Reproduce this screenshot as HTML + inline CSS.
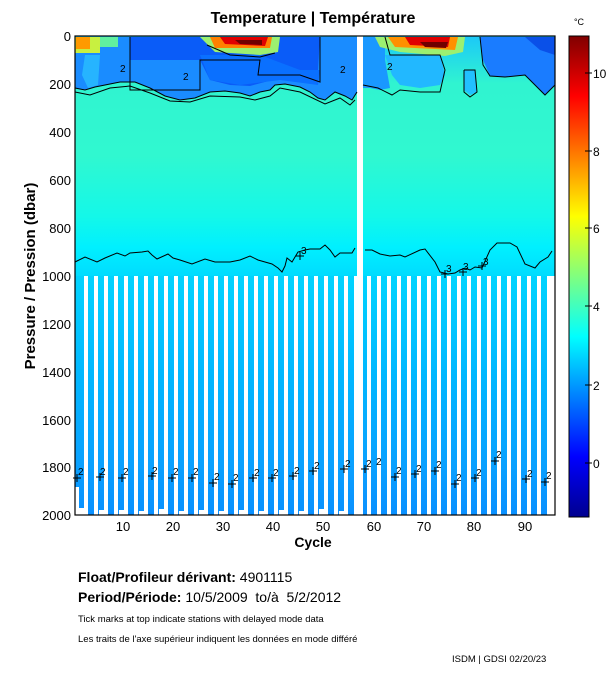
<!DOCTYPE html>
<html><head><meta charset="utf-8"><style>
body{margin:0;background:#fff;width:611px;height:675px;overflow:hidden;font-family:"Liberation Sans",sans-serif}
</style></head><body>
<svg width="611" height="675" xmlns="http://www.w3.org/2000/svg" font-family="Liberation Sans, sans-serif">
<defs>
<linearGradient id="jet" x1="0" y1="1" x2="0" y2="0">
<stop offset="0" stop-color="#00008f"/><stop offset="0.125" stop-color="#0000ff"/>
<stop offset="0.375" stop-color="#00ffff"/><stop offset="0.625" stop-color="#ffff00"/>
<stop offset="0.875" stop-color="#ff0000"/><stop offset="1" stop-color="#800000"/>
</linearGradient>
<linearGradient id="mid" x1="0" y1="0" x2="0" y2="1">
<stop offset="0" stop-color="#1cc8f8"/><stop offset="0.2" stop-color="#30f4d0"/>
<stop offset="0.5" stop-color="#30f8d0"/><stop offset="0.75" stop-color="#14f8e8"/>
<stop offset="0.88" stop-color="#00f0ff"/><stop offset="1" stop-color="#00dcff"/>
</linearGradient>
<linearGradient id="deep" x1="0" y1="0" x2="0" y2="1">
<stop offset="0" stop-color="#00d4ff"/><stop offset="0.4" stop-color="#00b8ff"/>
<stop offset="0.8" stop-color="#0aa0ff"/><stop offset="1" stop-color="#0a90ff"/>
</linearGradient>
</defs>
<text x="313" y="23" text-anchor="middle" font-size="16" font-weight="bold">Temperature | Température</text>
<rect x="75" y="36" width="480" height="240" fill="url(#mid)"/>
<rect x="75" y="276" width="480" height="239" fill="url(#deep)"/>
<g fill="#fff">
<rect x="84" y="276" width="4" height="239"/><rect x="94" y="276" width="4" height="239"/><rect x="104" y="276" width="4" height="239"/><rect x="114" y="276" width="4" height="239"/><rect x="124" y="276" width="4" height="239"/><rect x="134" y="276" width="4" height="239"/><rect x="144" y="276" width="4" height="239"/><rect x="154" y="276" width="4" height="239"/><rect x="164" y="276" width="4" height="239"/><rect x="174" y="276" width="4" height="239"/><rect x="184" y="276" width="4" height="239"/><rect x="194" y="276" width="4" height="239"/><rect x="204" y="276" width="4" height="239"/><rect x="214" y="276" width="4" height="239"/><rect x="224" y="276" width="4" height="239"/><rect x="234" y="276" width="4" height="239"/><rect x="244" y="276" width="4" height="239"/><rect x="254" y="276" width="4" height="239"/><rect x="264" y="276" width="4" height="239"/><rect x="274" y="276" width="4" height="239"/><rect x="284" y="276" width="4" height="239"/><rect x="294" y="276" width="4" height="239"/><rect x="304" y="276" width="4" height="239"/><rect x="314" y="276" width="4" height="239"/><rect x="324" y="276" width="4" height="239"/><rect x="334" y="276" width="4" height="239"/><rect x="344" y="276" width="4" height="239"/><rect x="354" y="276" width="4" height="239"/>
<rect x="357" y="36" width="6" height="479"/>
<rect x="367" y="276" width="4" height="239"/><rect x="377" y="276" width="4" height="239"/><rect x="387" y="276" width="4" height="239"/><rect x="397" y="276" width="4" height="239"/><rect x="407" y="276" width="4" height="239"/><rect x="417" y="276" width="4" height="239"/><rect x="427" y="276" width="4" height="239"/><rect x="437" y="276" width="4" height="239"/><rect x="447" y="276" width="4" height="239"/><rect x="457" y="276" width="4" height="239"/><rect x="467" y="276" width="4" height="239"/><rect x="477" y="276" width="4" height="239"/><rect x="487" y="276" width="4" height="239"/><rect x="497" y="276" width="4" height="239"/><rect x="507" y="276" width="4" height="239"/><rect x="517" y="276" width="4" height="239"/><rect x="527" y="276" width="4" height="239"/><rect x="537" y="276" width="4" height="239"/><rect x="547" y="276" width="8" height="239"/>
<rect x="75" y="487" width="4" height="28"/>
<rect x="79" y="508" width="5" height="7"/><rect x="99" y="510" width="5" height="5"/><rect x="119" y="510" width="5" height="5"/><rect x="139" y="511" width="5" height="4"/><rect x="159" y="509" width="5" height="6"/><rect x="179" y="511" width="5" height="4"/><rect x="199" y="510" width="5" height="5"/><rect x="219" y="511" width="5" height="4"/><rect x="239" y="510" width="5" height="5"/><rect x="259" y="511" width="5" height="4"/><rect x="279" y="510" width="5" height="5"/><rect x="299" y="511" width="5" height="4"/><rect x="319" y="509" width="5" height="6"/><rect x="339" y="511" width="5" height="4"/>
</g>
<polygon fill="#1a8cff" points="75,37 357,37 357,92 352,100 345,96 335,92 325,100 318,98 310,92 300,87 285,84 275,85 270,90 260,92 250,96 240,93 225,91 210,92 195,98 180,100 165,96 150,88 135,82 120,82 110,84 95,87 85,90 75,88"/>
<polygon fill="#0a5cf8" points="130,37 320,37 318,70 300,80 280,78 250,86 230,85 210,80 200,60 130,60"/>
<polygon fill="#0a70ff" points="200,55 260,55 300,70 320,70 318,85 280,80 240,85 210,80"/>
<polygon fill="#26b4ff" points="85,55 100,55 98,85 88,88 82,75"/>
<polygon fill="#1a98ff" points="363,37 385,37 385,60 390,88 380,90 370,88 363,88"/>
<polygon fill="#22b8ff" points="385,55 440,55 445,75 440,85 420,88 400,85 392,75"/>
<polygon fill="#1a7cff" points="480,37 555,37 555,85 545,95 535,85 525,75 505,77 490,76 483,60"/>
<polygon fill="#0a50e8" points="525,37 555,37 555,55 540,50"/>
<polygon fill="#22c0ff" points="464,70 475,70 477,92 470,95 464,90"/>
<rect x="75" y="37" width="25" height="16" fill="#c8f040"/>
<rect x="76" y="37" width="14" height="12" fill="#ff9a00"/>
<rect x="100" y="37" width="18" height="10" fill="#60f0a0"/>
<polygon fill="#9cf070" points="200,37 280,37 278,52 260,55 215,52"/>
<polygon fill="#ff8000" points="210,37 272,37 270,48 215,48"/>
<polygon fill="#e00000" points="220,37 268,37 265,46 225,44"/>
<polygon fill="#700000" points="235,40 262,40 262,45 240,44"/>
<polygon fill="#9cf070" points="375,37 465,37 463,52 445,56 400,52 380,47"/>
<polygon fill="#ff9000" points="388,37 458,37 455,50 395,47"/>
<polygon fill="#e00000" points="405,37 450,37 448,47 410,45"/>
<polygon fill="#700000" points="420,42 448,42 446,48 425,47"/>
<g fill="none" stroke="#000" stroke-width="1">
<polyline points="75,88 85,90 95,87 110,84 120,82 135,82 150,88 165,96 180,100 195,98 210,92 225,91 240,93 250,96 260,92 270,90 275,85 285,84 300,87 310,92 318,98 325,100 335,92 345,96 352,100 357,92"/>
<polyline points="75,92 90,95 110,88 130,86 150,93 170,101 190,102 210,96 240,97 255,100 270,96 280,88 300,92 325,104 340,98 350,105 355,100"/>
<polyline points="130,37 130,90 200,90 200,60 260,60 258,75 300,75 320,82 320,37"/>
<polyline points="207,45 230,55 260,57 275,53"/>
<polyline points="363,85 378,88 392,95 400,90 420,92 440,92 445,70 440,55 390,55 385,37"/>
<polyline points="480,37 483,65 490,76 505,77 525,75 535,85 545,95 555,85"/>
<polyline points="464,70 475,70 477,92 470,97 464,92 464,70"/>
<polyline points="75,262 85,257 97,262 105,258 117,253 125,256 130,253 142,252 148,251 152,255 157,259 168,254 173,258 180,260 192,264 205,259 215,262 230,262 240,260 250,256 258,260 265,262 272,264 278,268 282,272 285,266 287,258 292,262 298,252 305,250 310,249 320,249 325,245 330,250 335,257 340,253 352,253 355,248"/>
<polyline points="365,250 372,250 380,254 390,256 400,255 405,257 420,250 425,249 435,262 440,272 448,274 455,273 460,270 465,268 470,270 475,267 482,268 490,250 497,243 510,243 517,247 525,264 535,268 540,262 548,257 552,251"/>
<path d="M73,478h8M77,474v8 M96,477h8M100,473v8 M118,478h8M122,474v8 M148,476h8M152,472v8 M168,478h8M172,474v8 M188,478h8M192,474v8 M209,483h8M213,479v8 M228,484h8M232,480v8 M249,478h8M253,474v8 M268,478h8M272,474v8 M289,476h8M293,472v8 M309,471h8M313,467v8 M340,469h8M344,465v8 M361,469h8M365,465v8 M391,477h8M395,473v8 M411,474h8M415,470v8 M431,471h8M435,467v8 M451,484h8M455,480v8 M471,478h8M475,474v8 M491,461h8M495,457v8 M522,479h8M526,475v8 M541,482h8M545,478v8 M296,256h8M300,252v8 M441,274h8M445,270v8 M459,272h8M463,268v8 M478,266h8M482,262v8"/>
</g>
<g font-size="10" fill="#000">
<text x="301" y="254">3</text><text x="446" y="272">3</text><text x="463" y="270">3</text><text x="483" y="265">3</text>
<text x="78" y="475">2</text><text x="100" y="475">2</text><text x="123" y="475">2</text><text x="152" y="474">2</text><text x="173" y="475">2</text><text x="193" y="475">2</text><text x="214" y="480">2</text><text x="233" y="481">2</text><text x="254" y="476">2</text><text x="273" y="476">2</text><text x="294" y="474">2</text><text x="314" y="469">2</text><text x="345" y="467">2</text><text x="366" y="467">2</text><text x="376" y="465">2</text><text x="396" y="474">2</text><text x="416" y="472">2</text><text x="436" y="468">2</text><text x="456" y="481">2</text><text x="476" y="476">2</text><text x="496" y="458">2</text><text x="527" y="477">2</text><text x="546" y="479">2</text>
<text x="120" y="72">2</text><text x="183" y="80">2</text><text x="340" y="73">2</text><text x="387" y="70">2</text>
</g>
<rect x="75" y="36" width="480" height="479" fill="none" stroke="#000" stroke-width="1.2"/>
<g font-size="13" text-anchor="end">
<text x="71" y="41">0</text><text x="71" y="89">200</text><text x="71" y="137">400</text><text x="71" y="185">600</text><text x="71" y="233">800</text><text x="71" y="281">1000</text><text x="71" y="329">1200</text><text x="71" y="377">1400</text><text x="71" y="425">1600</text><text x="71" y="472">1800</text><text x="71" y="520">2000</text>
</g>
<g font-size="13" text-anchor="middle">
<text x="123" y="531">10</text><text x="173" y="531">20</text><text x="223" y="531">30</text><text x="273" y="531">40</text><text x="323" y="531">50</text><text x="374" y="531">60</text><text x="424" y="531">70</text><text x="474" y="531">80</text><text x="525" y="531">90</text>
</g>
<text x="313" y="547" text-anchor="middle" font-size="14" font-weight="bold">Cycle</text>
<text transform="translate(35,276) rotate(-90)" text-anchor="middle" font-size="15" font-weight="bold">Pressure / Pression (dbar)</text>
<rect x="569" y="36" width="20" height="481" fill="url(#jet)" stroke="#000"/>
<text x="579" y="25" text-anchor="middle" font-size="9">°C</text>
<g stroke="#000"><line x1="585" y1="73" x2="592" y2="73"/><line x1="585" y1="151" x2="592" y2="151"/><line x1="585" y1="228" x2="592" y2="228"/><line x1="585" y1="306" x2="592" y2="306"/><line x1="585" y1="385" x2="592" y2="385"/><line x1="585" y1="463" x2="592" y2="463"/></g>
<g font-size="12"><text x="593" y="78">10</text><text x="593" y="156">8</text><text x="593" y="233">6</text><text x="593" y="311">4</text><text x="593" y="390">2</text><text x="593" y="468">0</text></g>
<text x="78" y="582" font-size="14"><tspan font-weight="bold">Float/Profileur dérivant:</tspan> 4901115</text>
<text x="78" y="602" font-size="14"><tspan font-weight="bold">Period/Période:</tspan> 10/5/2009 &#160;to/à &#160;5/2/2012</text>
<text x="78" y="622" font-size="9.5">Tick marks at top indicate stations with delayed mode data</text>
<text x="78" y="642" font-size="9.5">Les traits de l'axe supérieur indiquent les données en mode différé</text>
<text x="452" y="662" font-size="9.5">ISDM | GDSI 02/20/23</text>
</svg>
</body></html>
